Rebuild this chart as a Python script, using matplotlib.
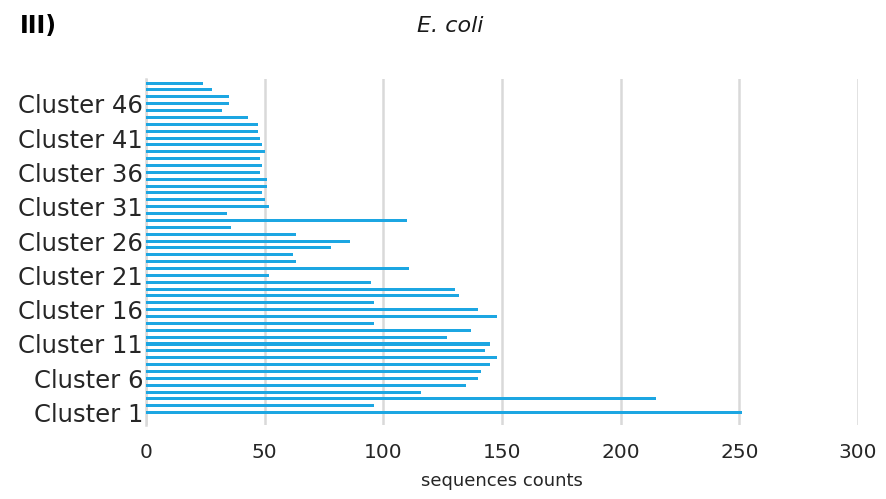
import matplotlib
matplotlib.use("Agg")
import matplotlib.pyplot as plt
import numpy as np

# Data: Cluster 1 .. Cluster 49 (bottom to top)
clusters = [f"Cluster {i}" for i in range(1, 50)]
counts = [251, 96, 215, 116, 135, 140, 141, 145, 148, 143,
          145, 127, 137, 96, 148, 140, 96, 132, 130, 95,
          52, 111, 63, 62, 78, 86, 63, 36, 110, 34,
          52, 50, 49, 51, 51, 48, 49, 48, 50, 49,
          48, 47, 47, 43, 32, 35, 35, 28, 24]
shown_labels = [f"Cluster {i}" for i in range(1, 50, 5)]
xticks = [0, 50, 100, 150, 200, 250, 300]

plt.rcParams['font.family'] = ['DejaVu Sans']

fig = plt.figure(figsize=(8.86, 4.99), dpi=100)
ax = fig.add_axes([146/886, 1-425/499, (858-146)/886, (425-79)/499])

ypos = np.arange(1, len(clusters)+1)
ax.barh(ypos, counts, height=0.44, color='#1CA6E2', zorder=3)

ax.set_xlim(0, 300)
ax.set_ylim(-0.8, len(clusters)+0.6)
ax.set_xticks(xticks)
ax.set_xticklabels([str(x) for x in xticks], fontsize=14.5, color='#262626')
tick_pos = [clusters.index(l)+1 for l in shown_labels]
ax.set_yticks(tick_pos)
ax.set_yticklabels(shown_labels, fontsize=17.5, color='#262626')
ax.tick_params(axis='both', length=0)
ax.tick_params(axis='x', pad=13)
ax.tick_params(axis='y', pad=2)

ax.grid(axis='x', color='#D9D9D9', linewidth=1.8, zorder=0)
ax.grid(axis='y', visible=False)
for s in ['top', 'right', 'bottom']:
    ax.spines[s].set_visible(False)
ax.spines['left'].set_color('#D9D9D9')
ax.spines['left'].set_linewidth(1.8)

ax.set_xlabel('sequences counts', fontsize=13, color='#262626', labelpad=7)

fig.text(450/886, 1-26/499, 'E. coli', fontsize=16, style='italic', ha='center', va='center', color='#1a1a1a')
fig.text(20/886, 1-26/499, 'III)', fontsize=17, fontweight='bold', ha='left', va='center', color='#000000',
         family=['Liberation Sans Narrow', 'DejaVu Sans'])

fig.savefig('out.png', dpi=100)
